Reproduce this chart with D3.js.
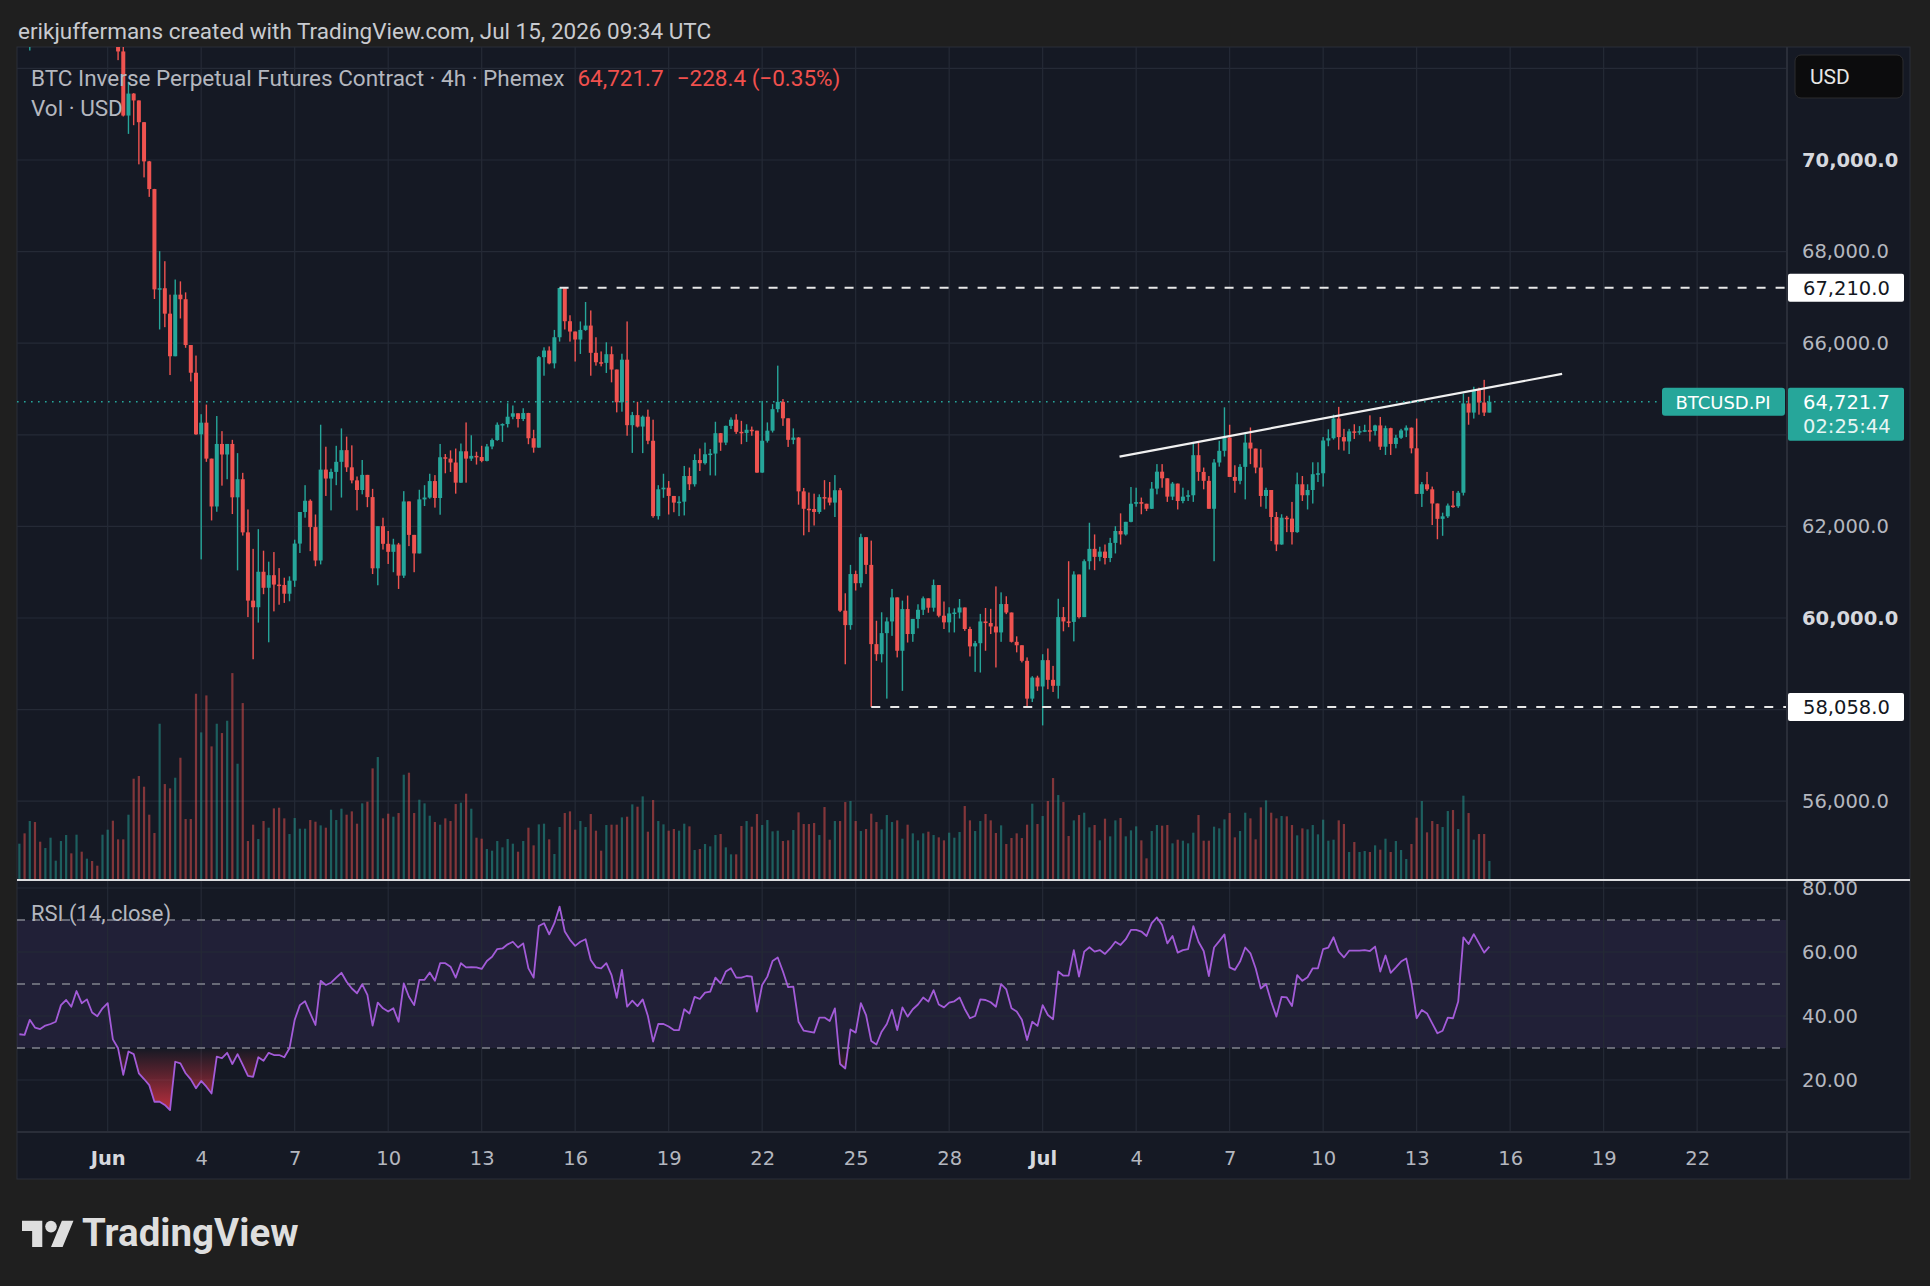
<!DOCTYPE html>
<html>
<head>
<meta charset="utf-8">
<script src="https://cdn.jsdelivr.net/npm/d3@7"></script>
<style>
    body { margin: 0; background: #1f1f1f; }
    svg { display: block; }
</style>
</head>
<body>
<svg></svg>
<script>
// ---------- data: 4h bars, index 0 = Jun 1 00:00 UTC ----------
var firstIndex = -17;
var firstOpen = 73300;

var closes = [
    73500, 73200, 73450, 73100, 72900, 73150, 73400, 73500, 73800, 74000,
    73800, 74100, 73900, 74000, 73850, 73700, 73900, 74000, 72800, 72370,
    70970, 71450, 71300, 70825, 69970, 69365, 67175, 67200, 66645, 65715,
    67060, 66960, 65960, 65355, 64010, 64265, 63480, 62435, 63800, 63570,
    63800, 62635, 63030, 61870, 60380, 60235, 61010, 60660, 60935, 60730,
    60720, 60530, 60815, 61625, 62315, 62560, 61985, 61255, 63240, 63045,
    63190, 63410, 63665, 63290, 63005, 62795, 63125, 62640, 61085, 62005,
    61620, 61445, 61605, 60925, 62545, 61815, 61410, 62590, 62630, 62990,
    62620, 63510, 63480, 63395, 62955, 63640, 63480, 63540, 63515, 63430,
    63745, 63885, 64220, 64235, 64395, 64470, 64345, 64475, 63925, 63720,
    65695, 65840, 65560, 66130, 67205, 66480, 66255, 66080, 66290, 66385,
    65790, 65585, 65570, 65760, 65425, 64710, 65640, 64210, 64430, 64180,
    64395, 63870, 62225, 62810, 62845, 62665, 62520, 62540, 63100, 62920,
    63450, 63380, 63575, 63590, 64035, 63830, 64195, 64330, 64065, 64040,
    64110, 64090, 63175, 63870, 64090, 64560, 64720, 64360, 63890, 63940,
    62765, 62385, 62380, 62315, 62640, 62630, 62520, 62790, 60160, 59845,
    60960, 60760, 61765, 61160, 59430, 59210, 59670, 59925, 60450, 59285,
    60195, 59650, 59980, 60180, 60430, 60225, 60720, 60050, 59905, 60100,
    60120, 60230, 59760, 59380, 59450, 59925, 59890, 59815, 59685, 60305,
    60120, 59480, 59405, 59065, 58240, 58700, 58505, 59080, 58650, 58520,
    60020, 59925, 59915, 60950, 60020, 61240, 61510, 61335, 61450, 61310,
    61640, 61900, 61825, 62100, 62495, 62530, 62495, 62385, 62825, 63195,
    63050, 62650, 62935, 62555, 62650, 62680, 63555, 63190, 62995, 62385,
    63395, 63650, 63940, 63080, 62995, 63300, 63830, 63700, 63285, 62665,
    62795, 62205, 61605, 62190, 62170, 61875, 62920, 62680, 62795, 63140,
    63160, 63875, 63925, 64355, 63950, 63855, 64075, 64060, 64080, 64100,
    64085, 64205, 63740, 64145, 63800, 63935, 64095, 64155, 63705, 62710,
    62920, 62810, 62500, 62165, 62220, 62455, 62440, 62735, 64685, 64485,
    64975, 64705, 64485, 64722
];

var highs = [
    73700, 73600, 73600, 73500, 73200, 73300, 73600, 73700, 73900, 74200,
    74100, 74300, 74200, 74200, 74100, 73900, 74000, 74200, 74100, 72800,
    72480, 71710, 71460, 71300, 70830, 69980, 69370, 68010, 67790, 67060,
    67390, 67350, 67110, 65960, 65730, 64450, 64660, 63480, 64410, 64080,
    63800, 63890, 63600, 63170, 62370, 61510, 61940, 61470, 61230, 61440,
    61090, 60880, 60910, 61710, 62315, 62900, 62590, 62260, 64220, 63740,
    63260, 63760, 64140, 63960, 63770, 63090, 63450, 63125, 62820, 62005,
    62190, 61900, 61730, 61640, 62770, 62545, 61815, 62800, 62900, 63150,
    63120, 63800, 63580, 63660, 63700, 63810, 64270, 63990, 63630, 63760,
    63800, 63920, 64270, 64250, 64690, 64640, 64470, 64580, 64480, 64110,
    65720, 65910, 65930, 66290, 67210, 67210, 66610, 66255, 66475, 66900,
    66715, 66130, 65820, 66020, 65930, 65425, 65770, 66475, 64500, 64720,
    64420, 64550, 64330, 62900, 63150, 62990, 62665, 62660, 63320, 63285,
    63575, 63700, 63830, 63690, 64285, 64040, 64200, 64380, 64450, 64305,
    64230, 64180, 64090, 64740, 64270, 64670, 65510, 64780, 64360, 64140,
    63950, 62840, 62740, 62715, 62700, 63010, 62970, 63120, 62840, 60540,
    61160, 61035, 61840, 61765, 61690, 59940, 60125, 60015, 60635, 60450,
    60380, 60490, 59980, 60300, 60470, 60430, 60840, 60720, 60360, 60235,
    60210, 60415, 60230, 59810, 59500, 60090, 60220, 60200, 60690, 60560,
    60475, 60120, 59600, 59405, 59140, 58730, 58740, 59210, 59335, 58955,
    60420, 60240, 61240, 61020, 60950, 61280, 62080, 61825, 61555, 61605,
    61750, 62005, 62285, 62100, 62860, 62845, 62630, 62495, 62970, 63360,
    63360, 63050, 62970, 62935, 62845, 62790, 63845, 63820, 63285, 63100,
    63470, 63870, 64600, 64220, 63335, 63360, 64015, 64160, 63700, 63685,
    62845, 62795, 62315, 62265, 62230, 62535, 63175, 63100, 62920, 63400,
    63400, 63950, 64120, 64440, 64610, 64130, 64130, 64230, 64190, 64220,
    64425, 64220, 64390, 64200, 64155, 64000, 64130, 64205, 64160, 64355,
    62970, 63190, 62870, 62500, 62300, 62500, 62775, 62775, 64900, 64830,
    65050, 65030, 65200, 64855
];

var lows = [
    73100, 72900, 72390, 72800, 72700, 72850, 73100, 73300, 73400, 73700,
    73600, 73700, 73700, 73800, 73600, 73500, 73600, 73800, 72700, 72180,
    70950, 70570, 70760, 69905, 69620, 69195, 66965, 66300, 66350, 65305,
    65715, 66540, 65900, 65165, 64000, 61280, 63410, 62130, 62320, 62890,
    63030, 62270, 61040, 61800, 60020, 59100, 59900, 60520, 59470, 60145,
    60290, 60330, 60365, 60680, 61420, 62190, 61460, 61130, 61170, 62665,
    62350, 62900, 62630, 63190, 62940, 62350, 62700, 62420, 60960, 60715,
    61495, 61180, 61000, 60635, 60875, 61570, 61000, 61410, 62445, 62605,
    62410, 62255, 63160, 63190, 62715, 62950, 62955, 63430, 63350, 63400,
    63420, 63685, 63870, 63845, 64160, 64340, 64160, 64300, 63795, 63610,
    63720, 65290, 65540, 65450, 66035, 66300, 66035, 65600, 65765, 66270,
    65290, 65510, 65495, 65350, 65145, 64490, 64505, 63980, 63605, 64160,
    63600, 63795, 62190, 62150, 62625, 62260, 62310, 62225, 62240, 62795,
    62870, 63210, 63350, 63115, 63110, 63650, 63775, 64125, 64020, 63795,
    63845, 63980, 63170, 63170, 63830, 64050, 64490, 64195, 63735, 63795,
    62475, 61805, 61875, 62020, 62275, 62370, 62460, 62205, 60130, 58990,
    59745, 60600, 60670, 60960, 58058, 59065, 59030, 58240, 59610, 59140,
    58410, 59465, 59480, 59775, 60065, 60115, 60140, 60015, 59760, 59685,
    59685, 59990, 59720, 59160, 58825, 58810, 59285, 59650, 58920, 59480,
    60085, 59465, 59250, 59030, 58080, 58165, 58410, 57655, 58445, 58385,
    58240, 59710, 59800, 59490, 59990, 60020, 61060, 61045, 61240, 61170,
    61220, 61410, 61605, 61800, 62090, 62430, 62265, 62335, 62380, 62700,
    62845, 62535, 62575, 62370, 62505, 62555, 62535, 62995, 62810, 62385,
    61240, 63305, 63525, 63080, 62735, 62920, 62590, 63360, 63160, 62430,
    62385, 61680, 61460, 61600, 61875, 61605, 61860, 62555, 62370, 62500,
    62970, 62870, 63750, 63895, 63675, 63655, 63580, 63910, 64000, 64060,
    63855, 63985, 63670, 63560, 63560, 63705, 63910, 63950, 63595, 62710,
    62425, 62775, 62030, 61720, 61795, 62185, 62405, 62405, 62675, 64220,
    64355, 64440, 64410, 64500
];

var volumes = [
    109, 140, 177, 174, 115, 96, 127, 58, 117, 135,
    80, 136, 85, 64, 57, 43, 136, 151, 178, 122,
    122, 196, 304, 312, 280, 196, 141, 469, 288, 275,
    307, 367, 183, 183, 559, 443, 554, 401, 469, 441,
    478, 621, 349, 531, 117, 166, 123, 177, 157, 215,
    217, 185, 138, 186, 154, 154, 180, 175, 164, 157,
    211, 180, 214, 196, 206, 169, 230, 235, 335, 369,
    185, 199, 190, 201, 316, 322, 201, 241, 230, 193,
    174, 166, 185, 177, 228, 232, 259, 214, 127, 124,
    93, 88, 117, 98, 123, 109, 85, 117, 157, 104,
    167, 169, 122, 78, 159, 201, 206, 151, 177, 159,
    198, 148, 88, 165, 166, 166, 188, 190, 227, 220,
    251, 145, 240, 177, 167, 148, 153, 148, 169, 161,
    90, 93, 108, 101, 135, 138, 98, 77, 77, 162,
    177, 160, 198, 165, 180, 146, 148, 117, 119, 150,
    203, 168, 168, 171, 135, 219, 121, 177, 177, 234,
    237, 177, 147, 153, 199, 174, 152, 195, 174, 179,
    124, 166, 140, 119, 140, 145, 135, 128, 119, 142,
    127, 144, 222, 179, 147, 177, 198, 179, 141, 164,
    108, 126, 140, 126, 166, 229, 168, 192, 237, 306,
    255, 234, 132, 179, 195, 202, 158, 165, 119, 184,
    131, 179, 186, 131, 149, 161, 119, 65, 147, 165,
    163, 165, 110, 121, 118, 110, 142, 195, 118, 118,
    160, 155, 182, 201, 128, 147, 202, 185, 122, 218,
    239, 202, 185, 192, 191, 165, 134, 155, 152, 165,
    137, 181, 118, 121, 179, 168, 84, 114, 84, 87,
    84, 104, 91, 124, 84, 117, 90, 63, 108, 187,
    237, 143, 177, 168, 159, 207, 210, 153, 253, 201,
    121, 138, 138, 57
];

var rsiValues = [
    34.3, 34.1, 38.8, 36.4, 35.9, 37, 37.5, 38.2, 43.4, 45,
    42.9, 47.8, 44, 45.2, 41.1, 39.9, 42.4, 44, 32.7, 29.9,
    21.6, 28.9, 28.1, 22.1, 20.3, 18.4, 13.2, 13.2, 12.2, 10.6,
    25.7, 25.2, 22.1, 20.2, 17.4, 19.7, 17.9, 15.8, 27.3, 26.8,
    28.5, 25, 28.1, 24.7, 21.3, 21, 27.1, 26, 28.5, 27.8,
    27.8, 27.1, 29.9, 38.8, 43.4, 44.6, 40.8, 37.2, 51, 49.7,
    50.4, 52, 53.5, 50.7, 48.6, 47.1, 49.9, 46.6, 37, 44.2,
    42.4, 41.4, 42.4, 38.2, 50.2, 46, 43.4, 51.3, 51.3, 53.6,
    51, 56.5, 56.5, 55.4, 52, 56.5, 55.2, 55.3, 55.2, 54.7,
    57.2, 58.5, 60.9, 61.1, 62.4, 63.2, 61.4, 62.7, 54.9, 52,
    68.1, 69, 65.5, 69, 74.2, 66.4, 63.8, 61.9, 63.2, 64,
    57.5, 55.2, 54.9, 56.5, 52.8, 45.7, 54.4, 42.9, 44.8, 43.1,
    45.2, 40, 32, 37.5, 37.5, 36.7, 35.6, 35.6, 42.1, 40.8,
    46, 45.3, 47.3, 47.6, 52, 50.2, 53.9, 54.9, 52, 52,
    52.5, 52.3, 41.4, 49.7, 52.3, 57.2, 58.3, 53.9, 49, 49.2,
    38.2, 35.4, 35.1, 34.8, 39.5, 39.5, 38.4, 42.4, 25, 23.6,
    35.8, 34.8, 44, 40.3, 32.2, 31.1, 35.1, 37.5, 41.9, 35.6,
    42.7, 39.8, 42.1, 43.6, 45.8, 44.5, 48.1, 43.6, 42.7, 44.2,
    44.6, 45.8, 42.2, 39.3, 40, 45.2, 45, 44.3, 42.9, 50,
    48.3, 42.4, 41.4, 38.8, 32.5, 38.2, 36.9, 43.4, 40.3, 39,
    53.9, 52.6, 52.6, 60.6, 52.3, 60.1, 61.5, 60.1, 60.6, 59.4,
    61.1, 63.2, 62.2, 64, 66.9, 66.9, 66.4, 65, 69, 70.8,
    68.4, 62.7, 65, 59.8, 60.6, 60.9, 68.1, 63.2, 60.3, 52.5,
    61.4, 63.4, 65.5, 55.2, 54.4, 57, 61.4, 59.6, 54.9, 48.6,
    50, 44.5, 39.8, 46, 45.8, 43.1, 52.8, 51, 52.1, 54.9,
    54.9, 60.9, 61.4, 64.6, 60.1, 58.3, 60.4, 60.4, 60.4, 60.6,
    60.3, 61.7, 53.9, 58.9, 53.5, 55.2, 57, 58, 50.2, 39.3,
    41.9, 40.8, 37.7, 34.6, 35.4, 39.5, 39.3, 44.5, 64.6, 62.5,
    65.6, 62.7, 59.8, 61.7
];

// axis ticks (64,000 and 58,000 sit under the price labels, so not written)
var gridPrices = [56000, 58000, 60000, 62000, 64000, 66000, 68000, 70000, 72000];
var labelPrices = [56000, 60000, 62000, 66000, 68000, 70000];
var boldPrices = [60000, 70000];
var rsiTicks = [20, 40, 60, 80];
var rsiLevels = [30, 50, 70];
var dayTicks = [0, 3, 6, 9, 12, 15, 18, 21, 24, 27, 30, 33, 36, 39, 42, 45, 48, 51];
var dayLabels = ["Jun", "4", "7", "10", "13", "16", "19", "22", "25", "28",
                 "Jul", "4", "7", "10", "13", "16", "19", "22"];

// drawings
var levelPrices = [67210, 58058];
var levelFrom = [87, 147];
var trendIdx = [194.8, 280];
var trendPrice = [63525, 65330];
var lastPrice = 64721.7;

// ---------- layout ----------
var width = 1930, height = 1286;
var panel = {left: 17, right: 1910, top: 47, bottom: 1179};
var plotRight = 1787;
var mainBottom = 880;
var rsiBottom = 1132;

var upColor = "#26a69a", downColor = "#ef5350";
var bg = "#151924";
var gridColor = "#252a36";
var textColor = "#b4b7bf";

var svg = d3.select("svg")
    .attr("width", width)
    .attr("height", height)
    .style("font-family", "Roboto, 'Noto Sans', sans-serif");

// build bar objects
var bars = closes.map(function(c, k) {
    var o = k == 0 ? firstOpen : closes[k - 1];
    return {
        i: firstIndex + k,
        o: o,
        c: c,
        h: Math.max(highs[k], o, c),
        l: Math.min(lows[k], o, c),
        v: volumes[k],
        rsi: rsiValues[k]
    };
});

// scales
var x = d3.scaleLinear().domain([-17.46, 323.3]).range([panel.left, plotRight]);
var y = d3.scaleLinear().domain([54280, 72467]).range([mainBottom, panel.top]);
var yVol = d3.scaleLinear().domain([0, 2500]).range([mainBottom, panel.top]);
var yRsi = d3.scaleLinear().domain([3.75, 82.5]).range([rsiBottom, mainBottom]);

var defs = svg.append("defs");
defs.append("clipPath").attr("id", "clipMain")
    .append("rect")
    .attr("x", panel.left).attr("y", panel.top)
    .attr("width", plotRight - panel.left).attr("height", mainBottom - panel.top);
defs.append("clipPath").attr("id", "clipRsi")
    .append("rect")
    .attr("x", panel.left).attr("y", mainBottom)
    .attr("width", plotRight - panel.left).attr("height", rsiBottom - mainBottom);

var gradDown = defs.append("linearGradient").attr("id", "gradDown")
    .attr("gradientUnits", "userSpaceOnUse")
    .attr("x1", 0).attr("x2", 0).attr("y1", yRsi(30)).attr("y2", yRsi(8));
gradDown.append("stop").attr("offset", 0).attr("stop-color", "rgba(242,54,69,0)");
gradDown.append("stop").attr("offset", 1).attr("stop-color", "rgba(242,54,69,0.85)");

var gradUp = defs.append("linearGradient").attr("id", "gradUp")
    .attr("gradientUnits", "userSpaceOnUse")
    .attr("x1", 0).attr("x2", 0).attr("y1", yRsi(70)).attr("y2", yRsi(90));
gradUp.append("stop").attr("offset", 0).attr("stop-color", "rgba(8,153,129,0)");
gradUp.append("stop").attr("offset", 1).attr("stop-color", "rgba(8,153,129,0.85)");

// header
svg.append("text")
    .attr("x", 18).attr("y", 39)
    .attr("fill", "#c9cbd0")
    .style("font-size", "22.5px")
    .text("erikjuffermans created with TradingView.com, Jul 15, 2026 09:34 UTC");

// chart panel
svg.append("rect")
    .attr("x", panel.left).attr("y", panel.top)
    .attr("width", panel.right - panel.left).attr("height", panel.bottom - panel.top)
    .attr("fill", bg)
    .attr("stroke", "#2a2e39");

// rsi band 30..70
svg.append("rect")
    .attr("x", panel.left).attr("y", yRsi(70))
    .attr("width", plotRight - panel.left).attr("height", yRsi(30) - yRsi(70))
    .attr("fill", "rgba(126,87,194,0.12)");

// grid
var grid = svg.append("g");
grid.selectAll(".hgrid").data(gridPrices).enter().append("line")
    .attr("x1", panel.left).attr("x2", plotRight)
    .attr("y1", function(d) { return y(d); })
    .attr("y2", function(d) { return y(d); })
    .attr("stroke", gridColor).attr("stroke-width", 1.2);
grid.selectAll(".rgrid").data(rsiTicks).enter().append("line")
    .attr("x1", panel.left).attr("x2", plotRight)
    .attr("y1", function(d) { return yRsi(d); })
    .attr("y2", function(d) { return yRsi(d); })
    .attr("stroke", gridColor).attr("stroke-width", 1.2);
grid.selectAll(".vgrid").data(dayTicks).enter().append("line")
    .attr("x1", function(d) { return x(d * 6); })
    .attr("x2", function(d) { return x(d * 6); })
    .attr("y1", panel.top).attr("y2", rsiBottom)
    .attr("stroke", gridColor).attr("stroke-width", 1.2);

// rsi dashed levels
svg.selectAll(".rsiLevel").data(rsiLevels).enter().append("line")
    .attr("x1", panel.left).attr("x2", plotRight)
    .attr("y1", function(d) { return yRsi(d); })
    .attr("y2", function(d) { return yRsi(d); })
    .attr("stroke", "#80838d")
    .attr("stroke-width", 1.5)
    .attr("stroke-dasharray", "8,7");

// main pane
var main = svg.append("g").attr("clip-path", "url(#clipMain)");

// volume
main.selectAll(".vol").data(bars).enter().append("rect")
    .attr("x", function(d) { return x(d.i) - 1.1; })
    .attr("width", 2.2)
    .attr("y", function(d) { return yVol(d.v); })
    .attr("height", function(d) { return mainBottom - yVol(d.v); })
    .attr("fill", function(d) { return d.c >= d.o ? "rgba(38,166,154,0.5)" : "rgba(239,83,80,0.5)"; });

// candles
var candle = main.selectAll(".candle").data(bars).enter().append("g");
candle.append("rect")
    .attr("x", function(d) { return x(d.i) - 0.7; })
    .attr("width", 1.4)
    .attr("y", function(d) { return y(d.h); })
    .attr("height", function(d) { return Math.max(1, y(d.l) - y(d.h)); })
    .attr("fill", function(d) { return d.c >= d.o ? upColor : downColor; });
candle.append("rect")
    .attr("x", function(d) { return x(d.i) - 2; })
    .attr("width", 4)
    .attr("y", function(d) { return y(Math.max(d.o, d.c)); })
    .attr("height", function(d) { return Math.max(1.5, Math.abs(y(d.o) - y(d.c))); })
    .attr("fill", function(d) { return d.c >= d.o ? upColor : downColor; });

// horizontal levels
main.selectAll(".level").data(levelPrices).enter().append("line")
    .attr("x1", function(d, k) { return x(levelFrom[k]); })
    .attr("x2", plotRight)
    .attr("y1", function(d) { return y(d); })
    .attr("y2", function(d) { return y(d); })
    .attr("stroke", "#e8e8e8")
    .attr("stroke-width", 2)
    .attr("stroke-dasharray", "9,10");

// trend line
main.append("line")
    .attr("x1", x(trendIdx[0])).attr("y1", y(trendPrice[0]))
    .attr("x2", x(trendIdx[1])).attr("y2", y(trendPrice[1]))
    .attr("stroke", "#f0f0f0")
    .attr("stroke-width", 2.2);

// last price dotted line
main.append("line")
    .attr("x1", panel.left).attr("x2", plotRight)
    .attr("y1", y(lastPrice)).attr("y2", y(lastPrice))
    .attr("stroke", upColor)
    .attr("stroke-width", 1.6)
    .attr("stroke-dasharray", "1.6,5.4");

// rsi pane
var rsiG = svg.append("g").attr("clip-path", "url(#clipRsi)");
rsiG.append("path")
    .datum(bars)
    .attr("fill", "url(#gradDown)")
    .attr("d", d3.area()
        .x(function(d) { return x(d.i); })
        .y0(yRsi(30))
        .y1(function(d) { return yRsi(Math.min(d.rsi, 30)); }));
rsiG.append("path")
    .datum(bars)
    .attr("fill", "url(#gradUp)")
    .attr("d", d3.area()
        .x(function(d) { return x(d.i); })
        .y0(yRsi(70))
        .y1(function(d) { return yRsi(Math.max(d.rsi, 70)); }));
rsiG.append("path")
    .datum(bars)
    .attr("fill", "none")
    .attr("stroke", "#a35bd8")
    .attr("stroke-width", 1.8)
    .attr("stroke-linejoin", "round")
    .attr("d", d3.line()
        .x(function(d) { return x(d.i); })
        .y(function(d) { return yRsi(d.rsi); }));

// separators
svg.append("line")
    .attr("x1", plotRight).attr("x2", plotRight)
    .attr("y1", panel.top).attr("y2", panel.bottom)
    .attr("stroke", "#2a2e39").attr("stroke-width", 2);
svg.append("line")
    .attr("x1", panel.left).attr("x2", panel.right)
    .attr("y1", rsiBottom).attr("y2", rsiBottom)
    .attr("stroke", "#2a2e39").attr("stroke-width", 2);
svg.append("line")
    .attr("x1", panel.left).attr("x2", panel.right)
    .attr("y1", mainBottom).attr("y2", mainBottom)
    .attr("stroke", "#dcdde0").attr("stroke-width", 2);

// price axis
var priceAxis = svg.append("g")
    .attr("transform", "translate(" + plotRight + ",0)")
    .call(d3.axisRight(y).tickValues(labelPrices).tickFormat(d3.format(",.1f")).tickSize(0).tickPadding(15));
var rsiAxis = svg.append("g")
    .attr("transform", "translate(" + plotRight + ",0)")
    .call(d3.axisRight(yRsi).tickValues(rsiTicks).tickFormat(d3.format(".2f")).tickSize(0).tickPadding(15));
var timeAxis = svg.append("g")
    .attr("transform", "translate(0," + rsiBottom + ")")
    .call(d3.axisBottom(x).tickValues(dayTicks.map(function(d) { return d * 6; }))
        .tickFormat(function(d, k) { return dayLabels[k]; }).tickSize(0).tickPadding(19));

[priceAxis, rsiAxis, timeAxis].forEach(function(a) {
    a.select(".domain").remove();
    a.selectAll("text")
        .attr("fill", textColor)
        .style("font-family", "'DejaVu Sans', sans-serif")
        .style("font-size", "19.5px");
});
priceAxis.selectAll("text")
    .filter(function(d) { return boldPrices.indexOf(d) >= 0; })
    .style("font-weight", "bold").attr("fill", "#d6d8de");
timeAxis.selectAll("text")
    .filter(function(d, k) { return dayLabels[k] == "Jun" || dayLabels[k] == "Jul"; })
    .style("font-weight", "bold").attr("fill", "#d6d8de");

// level labels on price axis
levelPrices.forEach(function(p) {
    svg.append("rect")
        .attr("x", plotRight + 1).attr("y", y(p) - 14)
        .attr("width", 116).attr("height", 28)
        .attr("rx", 2)
        .attr("fill", "#ffffff");
    svg.append("text")
        .attr("x", plotRight + 16).attr("y", y(p) + 7)
        .attr("fill", "#131722")
        .style("font-family", "'DejaVu Sans', sans-serif")
        .style("font-size", "19.5px")
        .text(d3.format(",.1f")(p));
});

// last price labels
svg.append("rect")
    .attr("x", 1662).attr("y", y(lastPrice) - 14)
    .attr("width", 123).attr("height", 28)
    .attr("rx", 3)
    .attr("fill", upColor);
svg.append("text")
    .attr("x", 1723).attr("y", y(lastPrice) + 7)
    .attr("text-anchor", "middle")
    .attr("fill", "#ffffff")
    .style("font-family", "'DejaVu Sans', sans-serif")
    .style("font-size", "18px")
    .text("BTCUSD.PI");
svg.append("rect")
    .attr("x", plotRight + 1).attr("y", y(lastPrice) - 14)
    .attr("width", 116).attr("height", 53)
    .attr("rx", 2)
    .attr("fill", upColor);
svg.append("text")
    .attr("x", plotRight + 16).attr("y", y(lastPrice) + 7)
    .attr("fill", "#ffffff")
    .style("font-family", "'DejaVu Sans', sans-serif")
    .style("font-size", "19.5px")
    .text(d3.format(",.1f")(lastPrice));
svg.append("text")
    .attr("x", plotRight + 16).attr("y", y(lastPrice) + 31)
    .attr("fill", "#e6f5f3")
    .style("font-family", "'DejaVu Sans', sans-serif")
    .style("font-size", "19.5px")
    .text("02:25:44");

// currency box
svg.append("rect")
    .attr("x", 1795).attr("y", 55)
    .attr("width", 108).attr("height", 43)
    .attr("rx", 6)
    .attr("fill", "#0c0c0d")
    .attr("stroke", "#2c2c2e");
svg.append("text")
    .attr("x", 1810).attr("y", 84)
    .attr("fill", "#e6e6e6")
    .style("font-size", "21px")
    .text("USD");

// legends
var legend = svg.append("text")
    .attr("x", 31).attr("y", 86)
    .style("font-size", "22.5px");
legend.append("tspan").attr("fill", textColor)
    .text("BTC Inverse Perpetual Futures Contract · 4h · Phemex");
legend.append("tspan").attr("fill", "#f0504d").attr("dx", 13).text("64,721.7");
legend.append("tspan").attr("fill", "#f0504d").attr("dx", 13).text("\u2212228.4 (\u22120.35%)");

svg.append("text")
    .attr("x", 31).attr("y", 116)
    .attr("fill", textColor)
    .style("font-size", "22.5px")
    .text("Vol · USD");

svg.append("text")
    .attr("x", 31).attr("y", 921)
    .attr("fill", textColor)
    .style("font-size", "22px")
    .text("RSI (14, close)");

// TradingView logo
var logo = svg.append("g").attr("fill", "#dedede");
logo.append("path")
    .attr("transform", "translate(22,1215) scale(1.45)")
    .attr("d", "M14 22H7V11H0V4h14v18zM28 22h-8l7.5-18h8L28 22z");
logo.append("circle")
    .attr("cx", 22 + 20 * 1.45).attr("cy", 1215 + 8 * 1.45).attr("r", 4 * 1.45);
logo.append("text")
    .attr("x", 82).attr("y", 1246)
    .style("font-size", "38.5px")
    .style("font-weight", "bold")
    .text("TradingView");
</script>
</body>
</html>
